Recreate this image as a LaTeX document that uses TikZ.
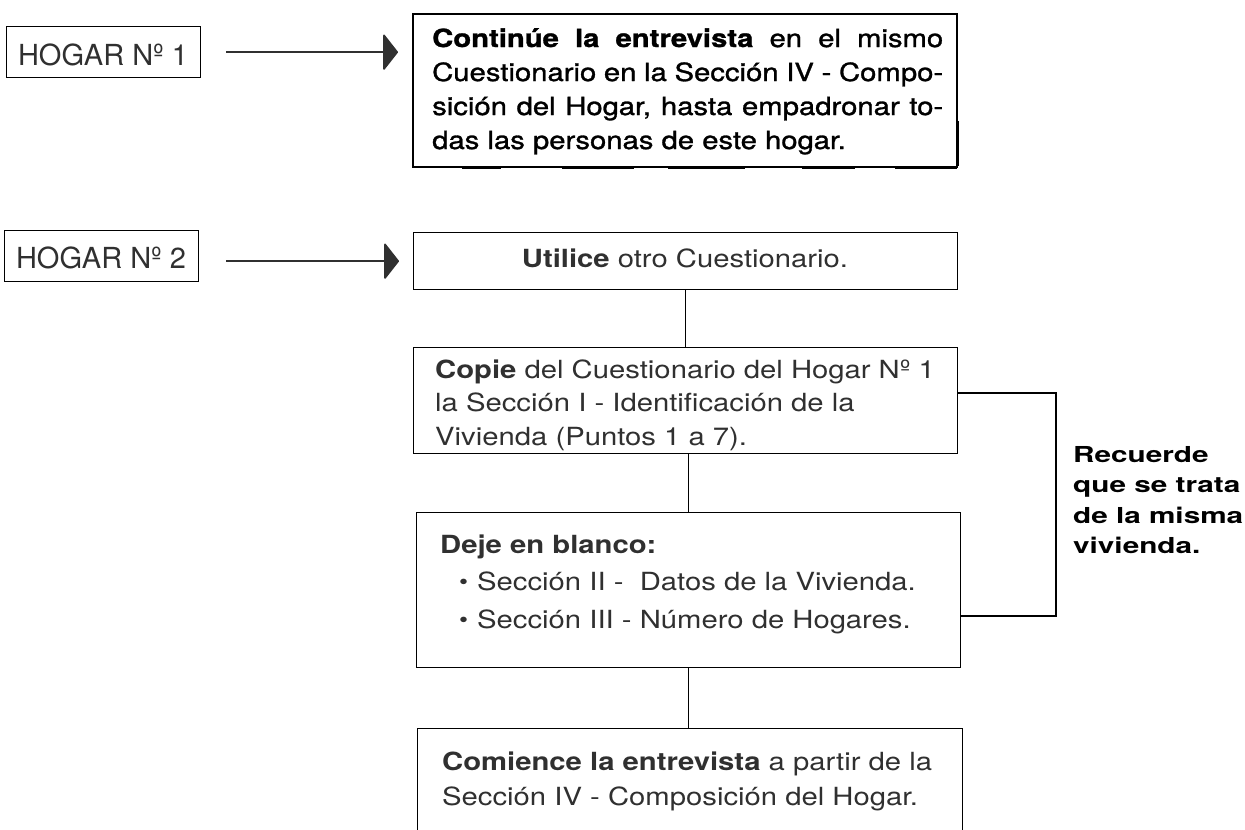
\documentclass[tikz,border=0pt]{standalone}
\usepackage{fontspec}
\setmainfont{TeX Gyre Heros}[FakeStretch=1.17]
\newfontfamily\hogfont{TeX Gyre Heros}
\newfontfamily\boxonefont{TeX Gyre Heros}[FakeStretch=1.17,FakeBold=1.2]
\newfontfamily\recfont{TeX Gyre Heros}[FakeStretch=1.35]
\usetikzlibrary{arrows.meta,calc}
\definecolor{ink}{HTML}{303030}
\begin{document}
\begin{tikzpicture}[x=1pt,y=-1pt,
  frame/.style={draw=black,line width=1.3pt,anchor=north west,inner sep=0pt},
  txt/.style={anchor=base west,inner sep=0pt,text=ink},
  conn/.style={draw=black,line width=1.2pt},
  arr/.style={draw=ink,line width=1.6pt,-{Triangle[length=15pt,width=38pt,round]}},
  scanmark/.style={draw=black,line width=2.6pt}]
\clip (0,0) rectangle (1245,830);
\fill[white] (0,0) rectangle (1245,830);

% left labels
\node[frame,minimum width=194pt,minimum height=51pt] (hogar1) at (6,26) {};
\node[anchor=base,inner sep=0pt,text=ink] (hogar1t) at (103,65) {\hogfont\fontsize{29}{29}\selectfont HOGAR Nº 1};
\node[frame,minimum width=194pt,minimum height=51pt] (hogar2) at (4,230) {};
\node[anchor=base,inner sep=0pt,text=ink] (hogar2t) at (101,268) {\hogfont\fontsize{29}{29}\selectfont HOGAR Nº 2};

% box 1
\node[frame,line width=1.8pt,minimum width=544pt,minimum height=153pt] (box1) at (412,13) {};
\node[txt,text=black] (box1t) at (432,47) {\boxonefont\fontsize{25}{34}\selectfont\parbox[t]{511pt}{%
\makebox[511pt][s]{\textbf{Continúe la entrevista} en el mismo}\\
\makebox[511pt][s]{Cuestionario en la Sección IV - Compo-}\\
\makebox[511pt][s]{sición del Hogar, hasta empadronar to-}\\
das las personas de este hogar.}};
\draw[scanmark] (462,168) -- (501,168);
\draw[scanmark] (562,168) -- (634,168);
\draw[scanmark] (668,168) -- (745,168);
\draw[scanmark] (802,168) -- (855,168);
\draw[scanmark] (895,168) -- (957,168);
\draw[scanmark] (958,121) -- (958,166);

% box 2
\node[frame,minimum width=544pt,minimum height=57pt] (utilice) at (413,232) {};
\node[anchor=base,inner sep=0pt,text=ink] (utilicet) at (685,267) {\fontsize{25}{30}\selectfont\textbf{Utilice} otro Cuestionario.};

% box 3
\node[frame,minimum width=544pt,minimum height=106pt] (copie) at (413,347) {};
\node[txt] (copiet) at (435,378) {\fontsize{25}{33.5}\selectfont\parbox[t]{515pt}{\raggedright
\textbf{Copie} del Cuestionario del Hogar Nº 1\\
la Sección I - Identificación de la\\
Vivienda (Puntos 1 a 7).}};

% box 4
\node[frame,minimum width=544pt,minimum height=155pt] (deje) at (416,512) {};
\node[txt] (dejet) at (440,553) {\fontsize{25}{37.5}\selectfont\parbox[t]{515pt}{\raggedright
\textbf{Deje en blanco:}\\
\hspace*{19pt}\makebox[18pt][l]{\fontsize{22}{22}\selectfont\raisebox{1pt}{•}}Sección II -\ \ Datos de la Vivienda.\\
\hspace*{19pt}\makebox[18pt][l]{\fontsize{22}{22}\selectfont\raisebox{1pt}{•}}Sección III - Número de Hogares.}};

% box 5
\node[frame,minimum width=545pt,minimum height=140pt] (comience) at (417,728) {};
\node[txt] (comiencet) at (442,770) {\fontsize{25}{35}\selectfont\parbox[t]{515pt}{\raggedright
\textbf{Comience la entrevista} a partir de la\\
Sección IV - Composición del Hogar.}};

% side note
\node[txt,text=black] (recuerde) at (1073,462) {\recfont\bfseries\fontsize{22}{30.5}\selectfont\parbox[t]{170pt}{\raggedright
Recuerde\\que se trata\\de la misma\\vivienda.}};

% arrows
\draw[arr,shorten <=25pt,shorten >=14pt] (hogar1.east) -- (hogar1.east -| box1.west);
\draw[arr,shorten <=27pt,shorten >=14pt] (hogar2.east |- utilice.west) -- (utilice.west);

% connectors
\draw[conn] (utilice.south) -- (utilice.south |- copie.north);
\draw[conn] (deje.north |- copie.south) -- (deje.north);
\draw[conn] (deje.south) -- (deje.south |- comience.north);
\coordinate (bt) at (1056,393);
\coordinate (bb) at (1056,616);
\draw[conn] (copie.east |- bt) -- (bt) -- (bb) -- (deje.east |- bb);
\end{tikzpicture}
\end{document}
